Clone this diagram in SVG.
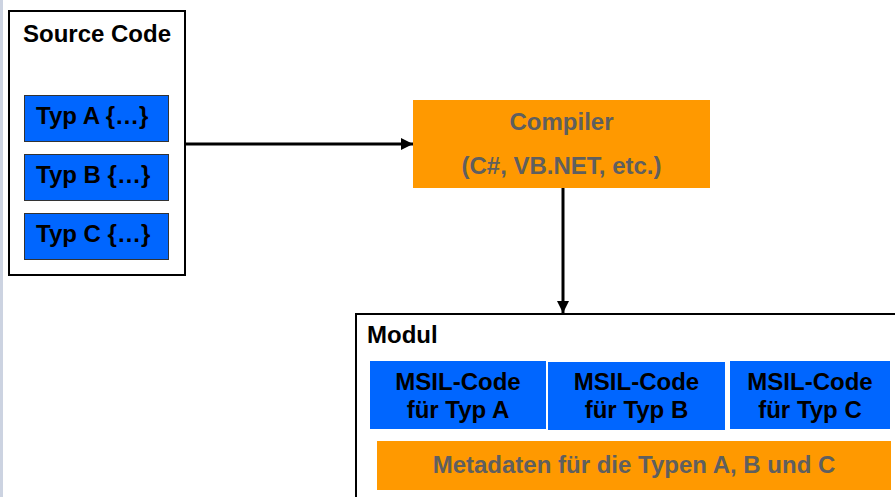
<svg xmlns="http://www.w3.org/2000/svg" width="895" height="497" viewBox="0 0 895 497">
  <style>
    text { font-family: "Liberation Sans", Arial, sans-serif; font-weight: bold; font-size: 24px; }
    .dark { fill: #000000; }
    .grey { fill: #5f5f5f; }
    .mid { text-anchor: middle; }
    .frame { fill: #ffffff; stroke: #000000; stroke-width: 2; }
    .typ { fill: #0066ff; stroke: #333333; stroke-width: 1; }
    .msil { fill: #0066ff; }
    .orange { fill: #ff9900; }
    .conn { stroke: #000000; stroke-width: 3; fill: none; }
  </style>
  <defs>
    <marker id="arrow" markerUnits="userSpaceOnUse" markerWidth="13" markerHeight="12" refX="12" refY="6" orient="auto">
      <path d="M0,0 L12,6 L0,12 Z" fill="#000000"/>
    </marker>
  </defs>
  <rect x="0" y="0" width="895" height="497" fill="#ffffff"/>
  <rect x="0" y="0" width="3" height="497" fill="#ccd3e1"/>

  <g id="source-code">
    <rect class="frame" x="9" y="11" width="176" height="264"/>
    <text class="dark" x="23" y="42">Source Code</text>
    <g id="typ-a">
      <rect class="typ" x="24.5" y="95.5" width="144" height="46"/>
      <text class="dark" x="36" y="123.5">Typ A {…}</text>
    </g>
    <g id="typ-b">
      <rect class="typ" x="24.5" y="154.5" width="144" height="46"/>
      <text class="dark" x="36" y="183">Typ B {…}</text>
    </g>
    <g id="typ-c">
      <rect class="typ" x="24.5" y="213.5" width="144" height="46"/>
      <text class="dark" x="36" y="242">Typ C {…}</text>
    </g>
  </g>

  <g id="compiler">
    <rect class="orange" x="413" y="100" width="297" height="88"/>
    <text class="grey mid" x="561.5" y="129.5">Compiler</text>
    <text class="grey mid" x="561.5" y="173.5">(C#, VB.NET, etc.)</text>
  </g>

  <g id="modul">
    <rect class="frame" x="356" y="314" width="560" height="200"/>
    <text class="dark" x="367" y="343">Modul</text>
    <g id="msil-a">
      <rect class="msil" x="370" y="361" width="176" height="68"/>
      <text class="dark mid" x="458" y="390">MSIL-Code</text>
      <text class="dark mid" x="458" y="418">für Typ A</text>
    </g>
    <g id="msil-b">
      <rect class="msil" x="548" y="362" width="177" height="68"/>
      <text class="dark mid" x="636.5" y="390">MSIL-Code</text>
      <text class="dark mid" x="636.5" y="418">für Typ B</text>
    </g>
    <g id="msil-c">
      <rect class="msil" x="730" y="361" width="160" height="68"/>
      <text class="dark mid" x="810" y="390">MSIL-Code</text>
      <text class="dark mid" x="810" y="418">für Typ C</text>
    </g>
    <g id="metadaten">
      <rect class="orange" x="377" y="441" width="514" height="49"/>
      <text class="grey mid" x="634" y="473">Metadaten für die Typen A, B und C</text>
    </g>
  </g>

  <g id="connectors">
    <line class="conn" x1="185" y1="144" x2="413" y2="144" marker-end="url(#arrow)"/>
    <line class="conn" x1="563" y1="188" x2="563" y2="313" marker-end="url(#arrow)"/>
  </g>
</svg>
